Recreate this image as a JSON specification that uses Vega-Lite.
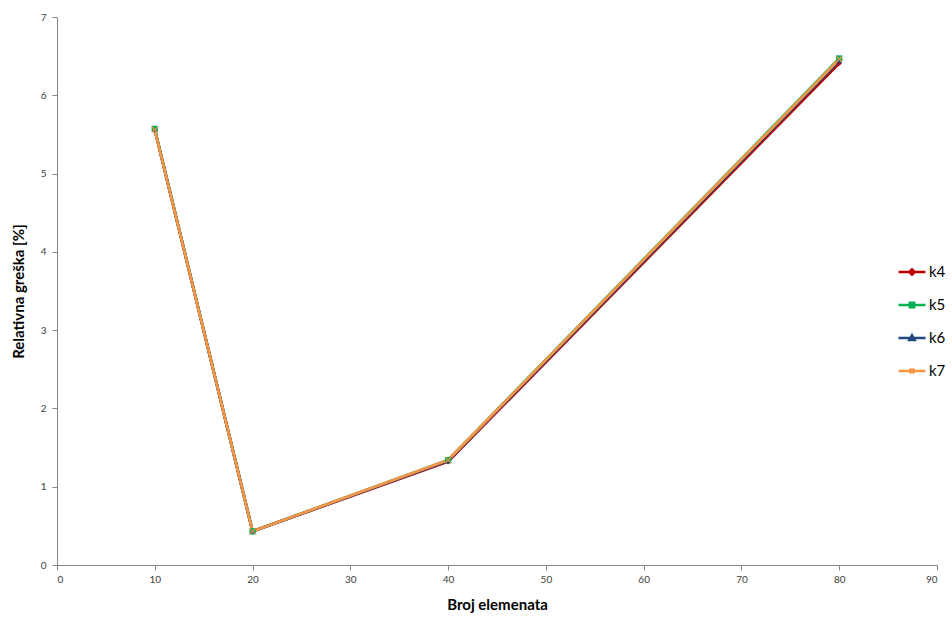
{
  "$schema": "https://vega.github.io/schema/vega-lite/v6.json",
  "autosize": {"type": "none"},
  "padding": {"left": 57, "top": 17, "right": 15, "bottom": 56},
  "width": 880,
  "height": 548,
  "background": "white",
  "config": {
    "view": {"stroke": null},
    "font": "Lato",
    "axis": {
      "grid": false,
      "domainColor": "#868686",
      "tickColor": "#868686",
      "labelColor": "#404040",
      "labelFont": "Lato",
      "labelFontSize": 10,
      "titleFont": "Lato",
      "titleFontSize": 15,
      "titleFontWeight": "bold",
      "titleColor": "#000000",
      "tickSize": 5
    }
  },
  "data": {
    "values": [
      {"series": "k4", "x": 10, "y": 5.56},
      {"series": "k4", "x": 20, "y": 0.43},
      {"series": "k4", "x": 40, "y": 1.32},
      {"series": "k4", "x": 80, "y": 6.41},
      {"series": "k5", "x": 10, "y": 5.57},
      {"series": "k5", "x": 20, "y": 0.43},
      {"series": "k5", "x": 40, "y": 1.34},
      {"series": "k5", "x": 80, "y": 6.47},
      {"series": "k6", "x": 10, "y": 5.56},
      {"series": "k6", "x": 20, "y": 0.43},
      {"series": "k6", "x": 40, "y": 1.33},
      {"series": "k6", "x": 80, "y": 6.44},
      {"series": "k7", "x": 10, "y": 5.56},
      {"series": "k7", "x": 20, "y": 0.43},
      {"series": "k7", "x": 40, "y": 1.34},
      {"series": "k7", "x": 80, "y": 6.46}
    ]
  },
  "encoding": {
    "x": {
      "field": "x", "type": "quantitative",
      "scale": {"domain": [0, 90], "nice": false},
      "axis": {"values": [0,10,20,30,40,50,60,70,80,90], "title": "Broj elemenata", "labelPadding": 4, "titlePadding": 13}
    },
    "y": {
      "field": "y", "type": "quantitative",
      "scale": {"domain": [0, 7], "nice": false},
      "axis": {"values": [0,1,2,3,4,5,6,7], "title": "Relativna greška [%]", "labelPadding": 6, "titlePadding": 14}
    }
  },
  "layer": [
    {
      "mark": {"type": "line", "strokeWidth": 2.8},
      "encoding": {
        "stroke": {
          "field": "series", "type": "nominal",
          "scale": {"domain": ["k4","k5","k6","k7"], "range": ["#C00000","#00B050","#1F497D","#F79646"]},
          "legend": {
            "title": null,
            "orient": "none",
            "legendX": 840,
            "legendY": 240,
            "symbolSize": 729,
            "symbolStrokeWidth": 2.5,
            "rowPadding": 10,
            "labelFontSize": 15,
            "labelFont": "Lato",
            "labelColor": "#000000",
            "labelOffset": 2,
            "encode": {
              "symbols": {
                "update": {
                  "shape": {"signal": "datum.value === 'k4' ? 'M-1,0L1,0M0,-0.2L0.2,0L0,0.2L-0.2,0Z' : datum.value === 'k5' ? 'M-1,0L1,0M-0.16,-0.16L0.16,-0.16L0.16,0.16L-0.16,0.16Z' : datum.value === 'k6' ? 'M-1,0L1,0M0,-0.2L0.2,0.15L-0.2,0.15Z' : 'M-1,0L1,0M-0.17,-0.17L0.17,0.17M-0.17,0.17L0.17,-0.17'"},
                  "fill": {"signal": "scale('stroke', datum.value)"}
                }
              }
            }
          }
        }
      }
    },
    {
      "transform": [{"filter": "datum.series === 'k4'"}],
      "mark": {"type": "point", "shape": "diamond", "filled": true, "color": "#C00000", "size": 30, "opacity": 1}
    },
    {
      "transform": [{"filter": "datum.series === 'k5'"}],
      "mark": {"type": "point", "shape": "square", "filled": true, "color": "#00B050", "size": 40, "opacity": 1}
    },
    {
      "transform": [{"filter": "datum.series === 'k6'"}],
      "mark": {"type": "point", "shape": "triangle-up", "filled": true, "color": "#1F497D", "size": 30, "opacity": 1}
    },
    {
      "transform": [{"filter": "datum.series === 'k7'"}],
      "mark": {"type": "point", "shape": "M-1,-1L1,1M-1,1L1,-1", "filled": false, "color": "#F79646", "strokeWidth": 1.2, "size": 30, "opacity": 1}
    }
  ]
}
